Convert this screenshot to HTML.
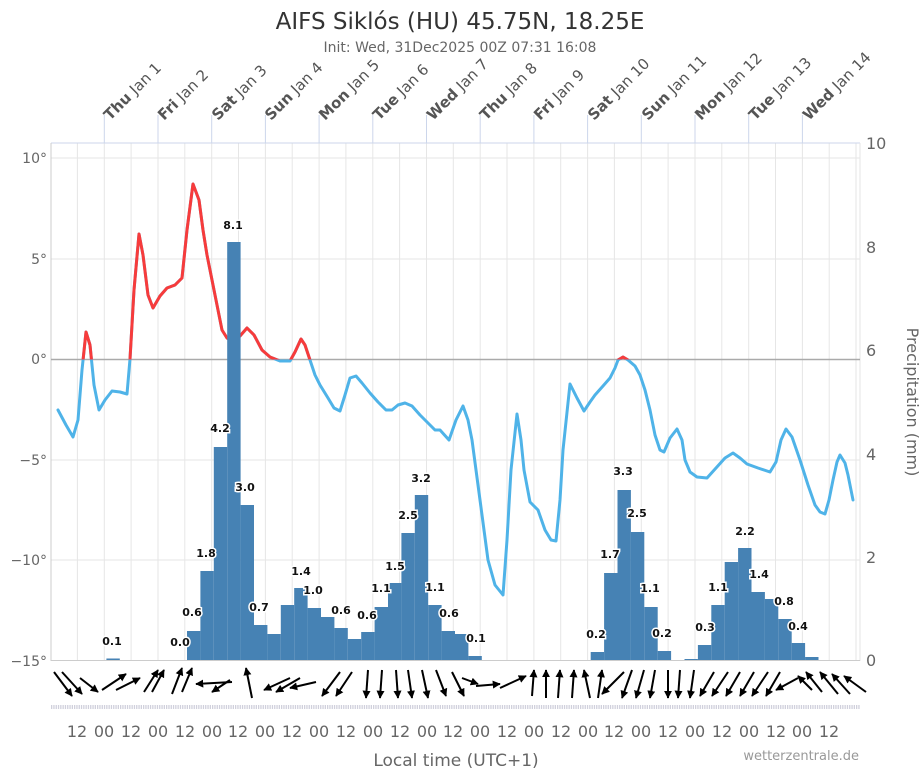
<!DOCTYPE html>
<html><head><meta charset="utf-8"><style>
body{margin:0;background:#fff;}
svg{display:block;font-family:"DejaVu Sans","Liberation Sans",sans-serif;}
</style></head><body>
<svg width="921" height="768" viewBox="0 0 921 768" xmlns="http://www.w3.org/2000/svg">
<defs>
<clipPath id="pos"><rect x="0" y="0" width="921" height="359.5"/></clipPath>
<marker id="ah" viewBox="0 0 10 10" refX="9" refY="5" markerWidth="4" markerHeight="4" orient="auto"><path d="M0,0 L10,5 L0,10 z" fill="#000"/></marker>
</defs>
<text x="460" y="29" text-anchor="middle" font-size="23" fill="#333">AIFS Siklós (HU) 45.75N, 18.25E</text>
<text x="460" y="52" text-anchor="middle" font-size="14" fill="#666">Init: Wed, 31Dec2025 00Z 07:31 16:08</text>
<g stroke="#e6e6e6" stroke-width="1">
<line x1="51" y1="158" x2="860" y2="158"/><line x1="51" y1="259" x2="860" y2="259"/><line x1="51" y1="460" x2="860" y2="460"/><line x1="51" y1="560" x2="860" y2="560"/>
</g>
<g stroke="#e6e6e6">
<line x1="77.4" y1="143" x2="77.4" y2="660"/><line x1="104.3" y1="143" x2="104.3" y2="660"/><line x1="131.1" y1="143" x2="131.1" y2="660"/><line x1="158" y1="143" x2="158" y2="660"/><line x1="184.8" y1="143" x2="184.8" y2="660"/><line x1="211.7" y1="143" x2="211.7" y2="660"/><line x1="238.5" y1="143" x2="238.5" y2="660"/><line x1="265.4" y1="143" x2="265.4" y2="660"/><line x1="292.2" y1="143" x2="292.2" y2="660"/><line x1="319.1" y1="143" x2="319.1" y2="660"/><line x1="345.9" y1="143" x2="345.9" y2="660"/><line x1="372.8" y1="143" x2="372.8" y2="660"/><line x1="399.6" y1="143" x2="399.6" y2="660"/><line x1="426.5" y1="143" x2="426.5" y2="660"/><line x1="453.3" y1="143" x2="453.3" y2="660"/><line x1="480.2" y1="143" x2="480.2" y2="660"/><line x1="507" y1="143" x2="507" y2="660"/><line x1="533.9" y1="143" x2="533.9" y2="660"/><line x1="560.7" y1="143" x2="560.7" y2="660"/><line x1="587.6" y1="143" x2="587.6" y2="660"/><line x1="614.4" y1="143" x2="614.4" y2="660"/><line x1="641.3" y1="143" x2="641.3" y2="660"/><line x1="668.1" y1="143" x2="668.1" y2="660"/><line x1="695" y1="143" x2="695" y2="660"/><line x1="721.8" y1="143" x2="721.8" y2="660"/><line x1="748.7" y1="143" x2="748.7" y2="660"/><line x1="775.5" y1="143" x2="775.5" y2="660"/><line x1="802.4" y1="143" x2="802.4" y2="660"/><line x1="829.2" y1="143" x2="829.2" y2="660"/><line x1="856" y1="143" x2="856" y2="660"/>
</g>
<line x1="51" y1="143" x2="860" y2="143" stroke="#ccd6eb"/>
<line x1="51" y1="143" x2="51" y2="661" stroke="#ccc"/>
<line x1="860" y1="143" x2="860" y2="661" stroke="#e6e6e6"/>
<line x1="51" y1="359.5" x2="860" y2="359.5" stroke="#aaa" stroke-width="1.5"/>
<line x1="51" y1="660.5" x2="860" y2="660.5" stroke="#ccc"/>
<g stroke="#ccd6eb"><line x1="104.3" y1="115" x2="104.3" y2="143"/><line x1="158" y1="115" x2="158" y2="143"/><line x1="211.7" y1="115" x2="211.7" y2="143"/><line x1="265.4" y1="115" x2="265.4" y2="143"/><line x1="319.1" y1="115" x2="319.1" y2="143"/><line x1="372.8" y1="115" x2="372.8" y2="143"/><line x1="426.5" y1="115" x2="426.5" y2="143"/><line x1="480.2" y1="115" x2="480.2" y2="143"/><line x1="533.9" y1="115" x2="533.9" y2="143"/><line x1="587.6" y1="115" x2="587.6" y2="143"/><line x1="641.3" y1="115" x2="641.3" y2="143"/><line x1="695" y1="115" x2="695" y2="143"/><line x1="748.7" y1="115" x2="748.7" y2="143"/><line x1="802.4" y1="115" x2="802.4" y2="143"/></g>
<g font-size="15" fill="#555">
<text transform="translate(110,121) rotate(-45)"><tspan font-weight="bold">Thu</tspan> Jan 1</text>
<text transform="translate(164,121) rotate(-45)"><tspan font-weight="bold">Fri</tspan> Jan 2</text>
<text transform="translate(218,121) rotate(-45)"><tspan font-weight="bold">Sat</tspan> Jan 3</text>
<text transform="translate(271,121) rotate(-45)"><tspan font-weight="bold">Sun</tspan> Jan 4</text>
<text transform="translate(325,121) rotate(-45)"><tspan font-weight="bold">Mon</tspan> Jan 5</text>
<text transform="translate(379,121) rotate(-45)"><tspan font-weight="bold">Tue</tspan> Jan 6</text>
<text transform="translate(433,121) rotate(-45)"><tspan font-weight="bold">Wed</tspan> Jan 7</text>
<text transform="translate(486,121) rotate(-45)"><tspan font-weight="bold">Thu</tspan> Jan 8</text>
<text transform="translate(540,121) rotate(-45)"><tspan font-weight="bold">Fri</tspan> Jan 9</text>
<text transform="translate(594,121) rotate(-45)"><tspan font-weight="bold">Sat</tspan> Jan 10</text>
<text transform="translate(648,121) rotate(-45)"><tspan font-weight="bold">Sun</tspan> Jan 11</text>
<text transform="translate(701,121) rotate(-45)"><tspan font-weight="bold">Mon</tspan> Jan 12</text>
<text transform="translate(755,121) rotate(-45)"><tspan font-weight="bold">Tue</tspan> Jan 13</text>
<text transform="translate(809,121) rotate(-45)"><tspan font-weight="bold">Wed</tspan> Jan 14</text>
</g>
<g font-size="14" fill="#666" text-anchor="end">
<text x="47" y="163">10°</text><text x="47" y="264">5°</text><text x="47" y="364">0°</text><text x="47" y="465">−5°</text><text x="47" y="565">−10°</text><text x="47" y="666">−15°</text>
</g>
<g font-size="16" fill="#666">
<text x="866" y="149">10</text><text x="866" y="253">8</text><text x="866" y="356">6</text><text x="866" y="460">4</text><text x="866" y="563">2</text><text x="866" y="666">0</text>
</g>
<text transform="translate(907,402) rotate(90)" text-anchor="middle" font-size="16" fill="#666">Precipitation (mm)</text>
<g fill="none" stroke-width="3" stroke-linejoin="round" stroke-linecap="round">
<polyline stroke="#4fb3e8" points="58,410 66,425 73,437 78,420 82,370 86,332 90,345 94,385 99,410 105,400 112,391 120,392 127,394 130,359 134,290 139,234 143,255 148,295 153,308 160,296 167,288 175,285 182,278 187,230 193,184 199,200 203,230 207,255 213,285 218,310 222,330 227,338 233,341 240,336 247,328 254,335 262,350 270,357 280,361 290,361 295,352 301,339 305,345 310,360 315,375 320,385 328,398 334,408 340,411 345,395 350,378 356,376 362,383 370,393 378,402 386,410 392,410 398,405 405,403 412,406 420,415 428,423 435,430 440,430 449,440 456,420 463,406 468,420 472,440 480,500 488,560 495,585 503,595 507,540 511,470 517,414 521,440 524,470 530,502 538,510 545,530 551,540 556,541 560,500 563,450 570,384 577,398 584,411 590,402 595,395 603,386 610,378 615,368 618,360 623,357 628,360 635,366 640,375 645,390 650,410 655,435 660,450 664,452 670,438 677,429 682,440 685,460 690,472 697,477 707,478 716,468 725,458 733,453 740,458 747,464 758,468 770,472 776,462 781,440 786,429 792,437 800,460 808,485 815,505 820,512 825,514 829,500 833,480 837,462 840,455 845,463 848,475 853,500"/>
<g clip-path="url(#pos)">
<polyline stroke="#f73b3b" points="58,410 66,425 73,437 78,420 82,370 86,332 90,345 94,385 99,410 105,400 112,391 120,392 127,394 130,359 134,290 139,234 143,255 148,295 153,308 160,296 167,288 175,285 182,278 187,230 193,184 199,200 203,230 207,255 213,285 218,310 222,330 227,338 233,341 240,336 247,328 254,335 262,350 270,357 280,361 290,361 295,352 301,339 305,345 310,360 315,375 320,385 328,398 334,408 340,411 345,395 350,378 356,376 362,383 370,393 378,402 386,410 392,410 398,405 405,403 412,406 420,415 428,423 435,430 440,430 449,440 456,420 463,406 468,420 472,440 480,500 488,560 495,585 503,595 507,540 511,470 517,414 521,440 524,470 530,502 538,510 545,530 551,540 556,541 560,500 563,450 570,384 577,398 584,411 590,402 595,395 603,386 610,378 615,368 618,360 623,357 628,360 635,366 640,375 645,390 650,410 655,435"/>
</g>
</g>
<g fill="#4682b4">
<rect x="106.4" y="658.5" width="13.4" height="1.5"/>
<rect x="187" y="631" width="13.4" height="29"/>
<rect x="200.4" y="571" width="13.4" height="89"/>
<rect x="213.8" y="447" width="13.4" height="213"/>
<rect x="227.2" y="242" width="13.4" height="418"/>
<rect x="240.6" y="505" width="13.4" height="155"/>
<rect x="254" y="625" width="13.4" height="35"/>
<rect x="267.4" y="634" width="13.4" height="26"/>
<rect x="280.8" y="605" width="13.4" height="55"/>
<rect x="294.2" y="588" width="13.4" height="72"/>
<rect x="307.6" y="608" width="13.4" height="52"/>
<rect x="321" y="617" width="13.4" height="43"/>
<rect x="334.4" y="628" width="13.4" height="32"/>
<rect x="347.8" y="639" width="13.4" height="21"/>
<rect x="361.2" y="632" width="13.4" height="28"/>
<rect x="374.6" y="607" width="13.4" height="53"/>
<rect x="388" y="583" width="13.4" height="77"/>
<rect x="401.4" y="533" width="13.4" height="127"/>
<rect x="414.8" y="495" width="13.4" height="165"/>
<rect x="428.2" y="605" width="13.4" height="55"/>
<rect x="441.6" y="631" width="13.4" height="29"/>
<rect x="455" y="634" width="13.4" height="26"/>
<rect x="468.4" y="656" width="13.4" height="4"/>
<rect x="590.7" y="652" width="13.4" height="8"/>
<rect x="604.1" y="573" width="13.4" height="87"/>
<rect x="617.5" y="490" width="13.4" height="170"/>
<rect x="630.9" y="532" width="13.4" height="128"/>
<rect x="644.3" y="607" width="13.4" height="53"/>
<rect x="657.7" y="651" width="13.4" height="9"/>
<rect x="684.5" y="659" width="13.4" height="1"/>
<rect x="697.9" y="645" width="13.4" height="15"/>
<rect x="711.3" y="605" width="13.4" height="55"/>
<rect x="724.7" y="562" width="13.4" height="98"/>
<rect x="738.1" y="548" width="13.4" height="112"/>
<rect x="751.5" y="592" width="13.4" height="68"/>
<rect x="764.9" y="599" width="13.4" height="61"/>
<rect x="778.3" y="619" width="13.4" height="41"/>
<rect x="791.7" y="643" width="13.4" height="17"/>
<rect x="805.1" y="657" width="13.4" height="3"/>
</g>
<g font-size="11" font-weight="bold" fill="#111" text-anchor="middle" stroke="#fff" stroke-width="3" paint-order="stroke">
<text x="112" y="645">0.1</text><text x="180" y="646">0.0</text><text x="192" y="616">0.6</text><text x="206" y="557">1.8</text><text x="220" y="432">4.2</text><text x="233" y="229">8.1</text><text x="245" y="491">3.0</text><text x="259" y="611">0.7</text><text x="301" y="575">1.4</text><text x="313" y="594">1.0</text><text x="341" y="614">0.6</text><text x="367" y="619">0.6</text><text x="381" y="592">1.1</text><text x="395" y="570">1.5</text><text x="408" y="519">2.5</text><text x="421" y="482">3.2</text><text x="435" y="591">1.1</text><text x="449" y="617">0.6</text><text x="476" y="642">0.1</text><text x="596" y="638">0.2</text><text x="610" y="558">1.7</text><text x="623" y="475">3.3</text><text x="637" y="517">2.5</text><text x="650" y="592">1.1</text><text x="662" y="637">0.2</text><text x="705" y="631">0.3</text><text x="718" y="591">1.1</text><text x="745" y="535">2.2</text><text x="759" y="578">1.4</text><text x="784" y="605">0.8</text><text x="798" y="630">0.4</text>
</g>
<g stroke="#000" stroke-width="2" marker-end="url(#ah)">
<line x1="54" y1="672" x2="72" y2="696"/><line x1="62" y1="672" x2="82" y2="694"/><line x1="80" y1="678" x2="98" y2="692"/><line x1="102" y1="690" x2="126" y2="674"/><line x1="116" y1="690" x2="140" y2="678"/><line x1="144" y1="692" x2="158" y2="670"/><line x1="152" y1="692" x2="164" y2="670"/><line x1="172" y1="694" x2="182" y2="668"/><line x1="182" y1="692" x2="192" y2="668"/><line x1="232" y1="682" x2="196" y2="684"/><line x1="230" y1="680" x2="212" y2="692"/><line x1="252" y1="698" x2="246" y2="668"/><line x1="290" y1="678" x2="264" y2="690"/><line x1="300" y1="678" x2="276" y2="692"/><line x1="316" y1="682" x2="290" y2="688"/><line x1="340" y1="672" x2="322" y2="696"/><line x1="352" y1="672" x2="336" y2="696"/><line x1="368" y1="670" x2="366" y2="698"/><line x1="382" y1="670" x2="380" y2="698"/><line x1="396" y1="670" x2="398" y2="698"/><line x1="408" y1="670" x2="412" y2="698"/><line x1="422" y1="670" x2="428" y2="698"/><line x1="436" y1="670" x2="446" y2="696"/><line x1="452" y1="672" x2="464" y2="696"/><line x1="462" y1="678" x2="478" y2="684"/><line x1="476" y1="686" x2="500" y2="684"/><line x1="500" y1="688" x2="526" y2="676"/><line x1="532" y1="696" x2="534" y2="670"/><line x1="546" y1="698" x2="546" y2="670"/><line x1="558" y1="698" x2="560" y2="670"/><line x1="572" y1="698" x2="574" y2="670"/><line x1="590" y1="698" x2="584" y2="670"/><line x1="598" y1="698" x2="602" y2="670"/><line x1="624" y1="672" x2="602" y2="694"/><line x1="632" y1="670" x2="622" y2="698"/><line x1="644" y1="670" x2="636" y2="698"/><line x1="655" y1="670" x2="650" y2="698"/><line x1="668" y1="670" x2="668" y2="698"/><line x1="680" y1="670" x2="678" y2="698"/><line x1="694" y1="670" x2="690" y2="698"/><line x1="714" y1="672" x2="700" y2="696"/><line x1="728" y1="672" x2="712" y2="696"/><line x1="740" y1="672" x2="726" y2="696"/><line x1="754" y1="672" x2="740" y2="696"/><line x1="768" y1="672" x2="752" y2="696"/><line x1="780" y1="672" x2="766" y2="696"/><line x1="798" y1="678" x2="776" y2="690"/><line x1="812" y1="690" x2="798" y2="676"/><line x1="822" y1="692" x2="806" y2="672"/><line x1="838" y1="694" x2="820" y2="672"/><line x1="850" y1="694" x2="832" y2="674"/><line x1="866" y1="692" x2="844" y2="676"/>
</g>
<line x1="51" y1="707" x2="860" y2="707" stroke="#d0d0dc" stroke-width="4" stroke-dasharray="1.3 1"/>
<g font-size="16" fill="#666" text-anchor="middle">
<text x="77" y="737">12</text><text x="104" y="737">00</text><text x="131" y="737">12</text><text x="158" y="737">00</text><text x="185" y="737">12</text><text x="212" y="737">00</text><text x="238" y="737">12</text><text x="265" y="737">00</text><text x="292" y="737">12</text><text x="319" y="737">00</text><text x="346" y="737">12</text><text x="373" y="737">00</text><text x="400" y="737">12</text><text x="427" y="737">00</text><text x="453" y="737">12</text><text x="480" y="737">00</text><text x="507" y="737">12</text><text x="534" y="737">00</text><text x="561" y="737">12</text><text x="588" y="737">00</text><text x="614" y="737">12</text><text x="641" y="737">00</text><text x="668" y="737">12</text><text x="695" y="737">00</text><text x="722" y="737">12</text><text x="749" y="737">00</text><text x="776" y="737">12</text><text x="802" y="737">00</text><text x="829" y="737">12</text>
</g>
<text x="456" y="766" text-anchor="middle" font-size="17" fill="#666">Local time (UTC+1)</text>
<text x="859" y="760" text-anchor="end" font-size="13" fill="#999">wetterzentrale.de</text>
</svg>
</body></html>
